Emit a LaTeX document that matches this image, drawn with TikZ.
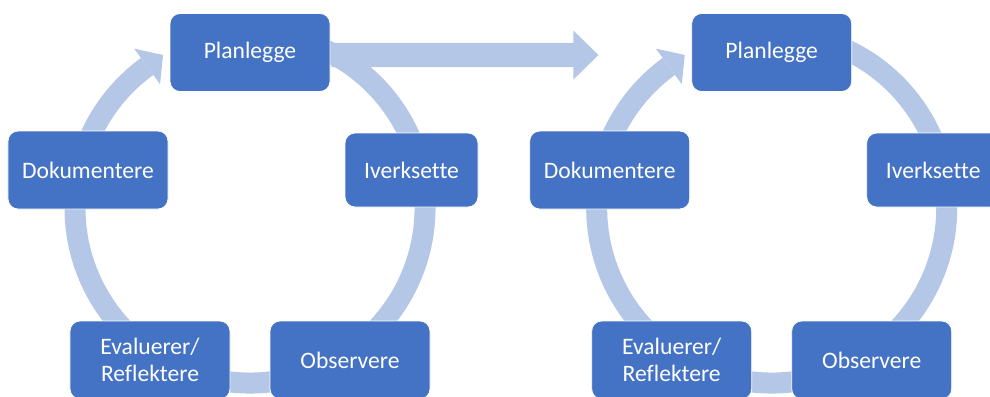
\documentclass[tikz,border=0pt]{standalone}
\usepackage{fontspec}
\setmainfont[Ligatures=CommonOff]{Carlito}
\definecolor{boxblue}{HTML}{4472C4}
\definecolor{ringblue}{HTML}{B4C7E7}
\begin{document}
\begin{tikzpicture}[x=1bp,y=1bp,
  box/.style={draw=white, line width=0.8bp, fill=boxblue, rounded corners=10bp,
    text=white, font=\fontsize{23.6bp}{27bp}\selectfont, align=center,
    inner sep=0pt, minimum width=160bp, minimum height=78bp},
  ring/.style={draw=ringblue, line width=21bp}]
\useasboundingbox (0,0) rectangle (990,396);
\clip (0,0) rectangle (990,396);
\foreach \dx/\s in {0/L,521.7/R}{
  \draw[ring] ([shift={(250+\dx,188)}]110:175) arc[start angle=110, end angle=-234, radius=175];
  \fill[ringblue] ([shift={(250+\dx,188)}]126:197) -- ([shift={(250+\dx,188)}]119.6:176)
     -- ([shift={(250+\dx,188)}]126:153) -- cycle;
  \node[box] (plan\s) at (250+\dx,343.5) {Planlegge};
  \node[box] (dok\s) at (88+\dx,226) {Dokumentere};
  \node[box, minimum width=133bp, minimum height=74bp] (iverk\s) at (411.5+\dx,226) {Iverksette};
  \node[box] (eval\s) at (150+\dx,36) {Evaluerer/\\Reflektere};
  \node[box] (obs\s) at (350+\dx,36) {Observere};
}
\coordinate (a0) at ([xshift=1bp,yshift=-2.5bp]planL.east);
\coordinate (atip) at ([xshift=267bp]a0);
\fill[ringblue] ([yshift=12bp]a0) -- ([xshift=242bp,yshift=12bp]a0) -- ([xshift=242bp,yshift=24.5bp]a0)
  -- (atip) -- ([xshift=242bp,yshift=-24.5bp]a0) -- ([xshift=242bp,yshift=-12bp]a0)
  -- ([yshift=-12bp]a0) -- cycle;
\end{tikzpicture}
\end{document}
